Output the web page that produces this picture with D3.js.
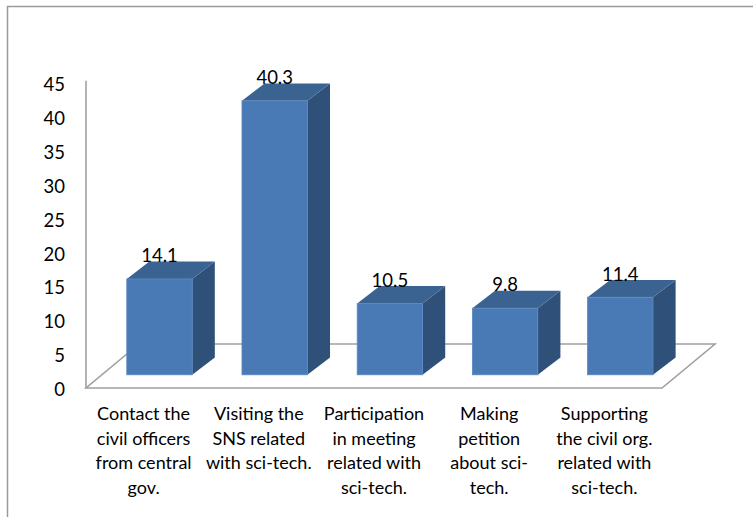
<!DOCTYPE html>
<html>
<head>
<meta charset="utf-8">
<script src="https://cdn.jsdelivr.net/npm/d3@7"></script>
<style>
  html, body { margin: 0; padding: 0; background: #fff; }
  svg { display: block; }
  text { font-family: Lato, "Open Sans", sans-serif; fill: #000; }
</style>
</head>
<body>
<svg id="chart" width="753" height="517"></svg>
<script>
// Share of respondents per type of science & technology participation
const categories = [
  "Contact the civil officers from central gov.",
  "Visiting the SNS related with sci-tech.",
  "Participation in meeting related with sci-tech.",
  "Making petition about sci-tech.",
  "Supporting the civil org. related with sci-tech."
];
const categoryLines = [
  ["Contact the", "civil officers", "from central", "gov."],
  ["Visiting the", "SNS related", "with sci-tech."],
  ["Participation", "in meeting", "related with", "sci-tech."],
  ["Making", "petition", "about sci-", "tech."],
  ["Supporting", "the civil org.", "related with", "sci-tech."]
];
const values = [14.1, 40.3, 10.5, 9.8, 11.4];
const yTicks = [0, 5, 10, 15, 20, 25, 30, 35, 40, 45];

const svg = d3.select("#chart");

// Outer chart-area frame (runs off the right and bottom edges)
svg.append("rect")
  .attr("x", 7.5).attr("y", 6.5)
  .attr("width", 800).attr("height", 600)
  .attr("fill", "none").attr("stroke", "#9a9a9a").attr("stroke-width", 1.5);

// Floor geometry: front edge and the oblique depth offset
const floorLeft = 86, floorRight = 662, floorY = 388;
const depth = { dx: 53, dy: 44 };      // floor depth projection
const barDepth = { dx: 22.6, dy: 17.3 }; // column depth projection
const barPos = 0.3;                     // columns stand 30% into the floor

const xFloor = d3.scaleBand()
  .domain(categories)
  .range([floorLeft, floorRight])
  .paddingInner(0.432)
  .paddingOuter(0.216);

const barBase = floorY - depth.dy * barPos;
const barShift = depth.dx * barPos;

const yBar = d3.scaleLinear().domain([0, 45]).range([barBase, barBase - 45 * 6.8]);
const yAxisScale = d3.scaleLinear().domain([0, 45]).range([389.5, 85]);

// Floor outline
const floorPts = [
  [floorLeft, floorY],
  [floorRight, floorY],
  [floorRight + depth.dx, floorY - depth.dy],
  [floorLeft + depth.dx, floorY - depth.dy]
];
svg.append("path")
  .attr("d", d3.line()(floorPts) + "Z")
  .attr("fill", "none").attr("stroke", "#a0a0a0").attr("stroke-width", 1.6)
  .attr("stroke-linejoin", "miter");

// Vertical value axis line
svg.append("line")
  .attr("x1", floorLeft).attr("x2", floorLeft)
  .attr("y1", floorY).attr("y2", yAxisScale(45) - 4.3)
  .attr("stroke", "#a0a0a0").attr("stroke-width", 1.6);

// Tick labels
const axis = d3.axisLeft(yAxisScale).tickValues(yTicks).tickSize(0).tickPadding(0);
const gAxis = svg.append("g").attr("transform", "translate(65,0)").call(axis);
gAxis.select(".domain").remove();
gAxis.selectAll("text")
  .style("font-family", "Lato, 'Open Sans', sans-serif")
  .style("font-size", "18.5px")
  .attr("fill", "#000");

// 3D columns
const colors = { front: "#4a7ab5", top: "#3b6392", side: "#2f5079" };
const bars = svg.append("g").selectAll("g.bar")
  .data(categories.map((c, i) => ({ c, v: values[i] })))
  .join("g").attr("class", "bar");

bars.each(function (d) {
  const g = d3.select(this);
  const x0 = xFloor(d.c) + barShift;
  const x1 = x0 + xFloor.bandwidth();
  const yTop = yBar(d.v), yB = yBar(0);
  const { dx, dy } = barDepth;
  // side face
  g.append("path")
    .attr("d", d3.line()([[x1, yB], [x1 + dx, yB - dy], [x1 + dx, yTop - dy], [x1, yTop]]) + "Z")
    .attr("fill", colors.side);
  // top face
  g.append("path")
    .attr("d", d3.line()([[x0, yTop], [x0 + dx, yTop - dy], [x1 + dx, yTop - dy], [x1, yTop]]) + "Z")
    .attr("fill", colors.top);
  // front face
  g.append("rect")
    .attr("x", x0).attr("y", yTop)
    .attr("width", x1 - x0).attr("height", yB - yTop)
    .attr("fill", colors.front)
    .attr("stroke", "#5a88c1").attr("stroke-width", 0.8);
});

// Value labels above each column
svg.append("g").selectAll("text")
  .data(categories.map((c, i) => ({ c, v: values[i] })))
  .join("text")
  .attr("x", d => xFloor(d.c) + barShift + xFloor.bandwidth() / 2)
  .attr("y", d => yBar(d.v) - 16.7)
  .attr("text-anchor", "middle")
  .style("font-size", "18.5px")
  .text(d => d.v.toFixed(1));

// Category labels under the floor
const catCenter = d3.scaleBand().domain(categories).range([floorLeft, floorRight]);
const labels = svg.append("g").selectAll("text")
  .data(categories.map((c, i) => ({ c, lines: categoryLines[i] })))
  .join("text")
  .attr("x", d => catCenter(d.c) + catCenter.bandwidth() / 2)
  .attr("y", 420)
  .attr("text-anchor", "middle")
  .style("font-size", "18px");
labels.selectAll("tspan")
  .data(d => d.lines.map(l => ({ l, x: catCenter(d.c) + catCenter.bandwidth() / 2 })))
  .join("tspan")
  .attr("x", t => t.x)
  .attr("dy", (t, i) => i === 0 ? 0 : 24.6)
  .text(t => t.l);
</script>
</body>
</html>
